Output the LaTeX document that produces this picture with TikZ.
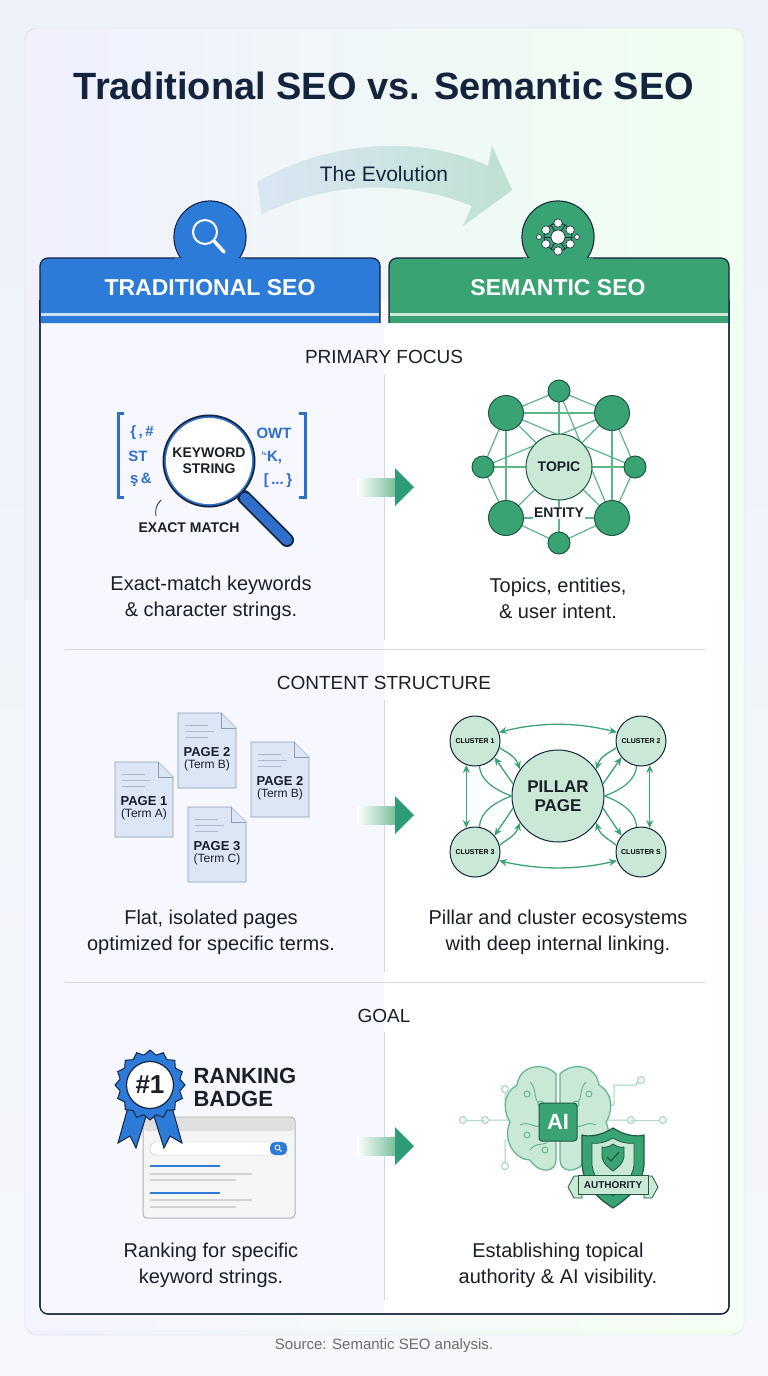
\documentclass[tikz,border=0pt]{standalone}
\usepackage{fontspec}
\setmainfont{Liberation Sans}
\usetikzlibrary{shapes.geometric,arrows.meta}
\definecolor{navy}{HTML}{14243D}
\definecolor{hblue}{HTML}{2D7BD8}
\definecolor{kblue}{HTML}{2E6FC9}
\definecolor{hgreen}{HTML}{3AA373}
\definecolor{dgreen}{HTML}{1E5A3F}
\definecolor{lgreen}{HTML}{C9E8D6}
\definecolor{egreen}{HTML}{5DB58A}
\definecolor{bg}{HTML}{EEF2F9}
\definecolor{pagef}{HTML}{DCE6F5}
\definecolor{pageb}{HTML}{8A9BB8}
\definecolor{txt}{HTML}{1A1F29}
\definecolor{gline}{HTML}{D2D6DD}
\tikzset{
 sect/.style={font=\fontsize{19}{22}\selectfont, text=txt},
 capt/.style={font=\fontsize{20}{26}\selectfont, text=txt, align=center},
 pg/.style={fill=pagef, draw=pageb, line width=0.9pt},
 pgt/.style={font=\bfseries\fontsize{13}{14}\selectfont, text=txt, align=center},
 bignode/.style={circle, fill=hgreen, draw=dgreen, line width=1pt},
 clus/.style={circle, fill=lgreen, draw=navy, line width=1pt, minimum size=50pt, inner sep=0pt, font=\bfseries\fontsize{7}{8}\selectfont},
 carr/.style={draw=hgreen, line width=1.3pt, -{Stealth[length=8pt,width=7pt]}},
 carr2/.style={draw=hgreen, line width=1.3pt, {Stealth[length=8pt,width=7pt]}-{Stealth[length=8pt,width=7pt]}},
 edge/.style={draw=egreen, line width=1.2pt},
 kw/.style={font=\bfseries\fontsize{15}{16}\selectfont, text=kblue},
 body/.style={draw=navy, line width=1.2pt, rounded corners=8},
}
\newcommand{\midarrow}[2]{%
 \shade[left color=white, right color=hgreen!70] (357,#1-9) rectangle (396,#1+9);
 \fill[hgreen!80!teal] (395,#1-19) -- (414,#1) -- (395,#1+19) -- cycle;
 \coordinate (#2) at (414,#1);}
\begin{document}
\begin{tikzpicture}[x=1pt,y=-1pt]
\useasboundingbox (0,0) rectangle (768,1376);
\shade[top color=bg, bottom color=bg!60!white] (0,0) rectangle (768,1376);
% outer card
\shade[left color=blue!6!white, right color=green!6!white, draw=gline] [rounded corners=12] (25,28) rectangle (744,1335);
\fill[white, opacity=0.35] (25,600) rectangle (744,1330);
% title
\node[font=\bfseries\fontsize{38}{42}\selectfont, text=navy] (title) at (384,86) {Traditional SEO vs. Semantic SEO};
% evolution arrow
\shade[left color=kblue!18!white, right color=hgreen!35!white, opacity=0.9, draw=hgreen!25]
 (258,182) .. controls (330,140) and (420,135) .. (488,166) -- (492,146) -- (512,190) -- (463,226)
 -- (472,206) .. controls (410,180) and (330,180) .. (262,214) -- cycle;
\node[font=\fontsize{21}{24}\selectfont, text=navy] (evo) at (384,174) {The Evolution};
% body
\path[fill=white, body] (40,300) -- (40,1314) -- (729,1314) -- (729,300);
\fill[blue!3] (41,323) rectangle (384,1313);
\draw[body] (40,300) -- (40,1314) -- (729,1314) -- (729,300);
% left header
\filldraw[fill=hblue, draw=navy, line width=1.2pt] (210,237) circle (36);
\filldraw[fill=hblue, draw=navy, line width=1.2pt, rounded corners=8] (40,323) -- (40,258) -- (380,258) -- (380,323);
\fill[hblue] (210,237) circle (35.3);
\fill[hblue] (175,258) rectangle (245,270);
\draw[white!75!hblue, line width=3pt] (41,314) -- (379,314);
\node[font=\bfseries\fontsize{23}{26}\selectfont, text=white] (lh) at (210,288) {TRADITIONAL SEO};
\draw[white, line width=2pt] (205,232) circle (12);
\draw[white, line width=3.5pt, line cap=round] (214,241) -- (224,252);
% right header
\filldraw[fill=hgreen, draw=navy, line width=1.2pt] (558,237) circle (36);
\filldraw[fill=hgreen, draw=navy, line width=1.2pt, rounded corners=8] (389,323) -- (389,258) -- (729,258) -- (729,323);
\fill[hgreen] (558,237) circle (35.3);
\fill[hgreen] (523,258) rectangle (593,270);
\draw[white!75!hgreen, line width=3pt] (390,314) -- (728,314);
\node[font=\bfseries\fontsize{23}{26}\selectfont, text=white] (rh) at (558,288) {SEMANTIC SEO};
\foreach \a in {0,60,...,300}{\draw[navy, line width=0.8pt] (558,237) -- ++(\a:14);}
\draw[navy, line width=0.8pt] (558,237) circle (14);
\foreach \a in {30,90,...,330}{\filldraw[fill=white, draw=navy, line width=0.6pt] (558,237) ++(\a:14) circle (4.2);}
\foreach \a in {0,180}{\filldraw[fill=white, draw=navy, line width=0.6pt] (558,237) ++(\a:19) circle (2.5);}
\filldraw[fill=white, draw=navy, line width=0.6pt] (558,237) circle (7);
% dividers
\draw[gline, line width=1pt] (384,375) -- (384,640) (384,700) -- (384,972) (384,1032) -- (384,1300);
\draw[gline, line width=1pt] (65,649) -- (705,649);
\draw[gline, line width=1pt] (65,982) -- (705,982);
\node[sect] (s1) at (384,357) {PRIMARY FOCUS};
\node[sect] (s2) at (384,683) {CONTENT STRUCTURE};
\node[sect] (s3) at (384,1016) {GOAL};
% ===== primary focus left
\draw[kblue, line width=3pt] (124,413) -- (118,413) -- (118,497) -- (124,497);
\draw[kblue, line width=3pt] (299,413) -- (305,413) -- (305,497) -- (299,497);
\node[kw] (k1) at (142,433) {\{\,,\,\#};
\node[kw] (k2) at (138,456) {ST};
\node[kw] (k3) at (141,480) {ş\,\&};
\node[kw] (k4) at (274,433) {OWT};
\node[kw] (k5) at (272,457) {\textsuperscript{\tiny fu}K,};
\node[kw] (k6) at (278,481) {[\,...\,\}};
\draw[navy, line width=14pt, line cap=round] (244,497) -- (287,540);
\draw[kblue, line width=10.5pt, line cap=round] (245,498) -- (287,540);
\draw[navy, line width=11pt] (209,461) circle (41);
\draw[kblue, line width=7.5pt] (209,461) circle (41);
\node[circle, fill=white, minimum size=72pt, align=center, font=\bfseries\fontsize{14}{16}\selectfont, text=txt] (kwl) at (209,461) {KEYWORD\\STRING};
\draw[navy, line width=0.8pt] (161,500) .. controls (156,505) and (155,510) .. (156,516);
\node[font=\bfseries\fontsize{14}{16}\selectfont, text=txt] (em) at (189,528) {EXACT MATCH};
\node[capt] (c1) at (211,598) {Exact-match keywords\\\& character strings.};
\midarrow{487}{a1}
% ===== primary focus right
\coordinate (nT) at (559,391); \coordinate (nTL) at (506,413); \coordinate (nTR) at (612,413);
\coordinate (nL) at (483,467); \coordinate (nR) at (635,467); \coordinate (nBL) at (506,518);
\coordinate (nBR) at (612,518); \coordinate (nB) at (559,543); \coordinate (nC) at (559,467);
\foreach \p/\q in {nT/nTL,nTL/nL,nL/nBL,nBL/nB,nB/nBR,nBR/nR,nR/nTR,nTR/nT,nTL/nTR,nBL/nBR,nL/nR,nTL/nBL,nTR/nBR,nTL/nBR,nTR/nBL,nT/nC,nTL/nR,nT/nBR,nL/nTR,nB/nC}
 {\draw[edge] (\p) -- (\q);}
\foreach \n in {nTL,nTR,nBL,nBR}{\node[bignode, minimum size=35pt] (g\n) at (\n) {};}
\foreach \n in {nT,nL,nR,nB}{\node[bignode, minimum size=22pt] (g\n) at (\n) {};}
\node[circle, fill=lgreen, draw=dgreen, line width=1pt, minimum size=66pt, font=\bfseries\fontsize{14}{16}\selectfont, text=txt] (topic) at (nC) {TOPIC};
\node[fill=white, inner sep=1pt, font=\bfseries\fontsize{14}{16}\selectfont, text=txt] (ent) at (559,513) {ENTITY};
\node[capt] (c2) at (558,598) {Topics, entities,\\\& user intent.};
% ===== content structure left
\foreach \x/\y/\n/\t/\nm in {115/762/1/A/p1, 178/713/2/B/p2, 251/742/2/B/p3, 188/807/3/C/p4}{
 \filldraw[pg] (\x,\y) -- (\x+43,\y) -- (\x+58,\y+15) -- (\x+58,\y+75) -- (\x,\y+75) -- cycle;
 \filldraw[pg] (\x+43,\y) -- (\x+43,\y+15) -- (\x+58,\y+15);
 \draw[pageb!70, line width=0.8pt] (\x+7,\y+12) -- (\x+30,\y+12) (\x+7,\y+18) -- (\x+36,\y+18) (\x+7,\y+24) -- (\x+30,\y+24);
 \node[pgt] (\nm) at (\x+29,\y+46) {PAGE \n\\[-2pt]{\mdseries\fontsize{12}{14}\selectfont(Term \t)}};
}
\node[capt] (c3) at (211,932) {Flat, isolated pages\\optimized for specific terms.};
\midarrow{815}{a2}
% ===== content structure right
\node[circle, fill=lgreen, draw=navy, line width=1pt, minimum size=92pt, align=center, font=\bfseries\fontsize{17}{19}\selectfont, text=txt] (pil) at (558,796) {PILLAR\\PAGE};
\node[clus] (q1) at (475,741) {CLUSTER 1};
\node[clus] (q2) at (641,741) {CLUSTER 2};
\node[clus] (q3) at (475,852) {CLUSTER 3};
\node[clus] (q4) at (641,852) {CLUSTER S};
\draw[carr2] (q1.20) .. controls (540,722) and (576,722) .. (q2.160);
\draw[carr2] (q3.-20) .. controls (540,870) and (576,870) .. (q4.-160);
\draw[carr2] (q1.-110) -- (q3.110);
\draw[carr2] (q2.-70) -- (q4.70);
\draw[carr] (q1.-15) .. controls (505,752) and (515,755) .. (pil.145);
\draw[carr] (pil.165) -- (q1.-40);
\draw[carr] (q2.-165) .. controls (611,752) and (601,755) .. (pil.35);
\draw[carr] (pil.15) -- (q2.-140);
\draw[carr] (q3.15) .. controls (505,840) and (515,837) .. (pil.-145);
\draw[carr] (pil.-165) -- (q3.40);
\draw[carr] (q4.165) .. controls (611,840) and (601,837) .. (pil.-35);
\draw[carr] (pil.-15) -- (q4.140);
\draw[hgreen, line width=1.2pt] (q1.-80) .. controls (480,780) and (495,790) .. (pil.180);
\draw[hgreen, line width=1.2pt] (q3.80) .. controls (480,812) and (495,802) .. (pil.180);
\draw[hgreen, line width=1.2pt] (q2.-100) .. controls (636,780) and (621,790) .. (pil.0);
\draw[hgreen, line width=1.2pt] (q4.100) .. controls (636,812) and (621,802) .. (pil.0);
\node[capt] (c4) at (558,932) {Pillar and cluster ecosystems\\with deep internal linking.};
% ===== goal left
\filldraw[fill=gray!8, draw=gray!60, line width=1pt, rounded corners=4] (143,1117) rectangle (295,1218);
\fill[gray!25, rounded corners=4] (143.5,1117.5) rectangle (294.5,1131);
\filldraw[fill=white, draw=gray!50, rounded corners=6] (150,1142) rectangle (287,1155);
\fill[hblue, rounded corners=5] (270,1142) rectangle (287,1155);
\draw[white, line width=0.8pt] (277.5,1147.5) circle (2.5) (279.3,1149.3) -- (281.5,1151.5);
\draw[hblue, line width=2.8pt] (150,1166) -- (220,1166) (150,1193) -- (220,1193);
\draw[gray!35, line width=2pt] (150,1174) -- (252,1174) (150,1180) -- (236,1180) (150,1200) -- (252,1200) (150,1207) -- (236,1207);
\filldraw[fill=hblue, draw=navy, line width=1pt] (130,1100) -- (118,1143) -- (130,1136) -- (136,1148) -- (148,1110) -- cycle;
\filldraw[fill=hblue, draw=navy, line width=1pt] (152,1110) -- (164,1148) -- (170,1136) -- (182,1143) -- (170,1100) -- cycle;
\node[star, star points=16, star point ratio=1.15, minimum size=70pt, inner sep=0pt, fill=hblue, draw=navy, line width=1pt] (ros) at (150,1085) {};
\node[circle, fill=white, draw=navy, line width=1.2pt, minimum size=47pt, inner sep=0pt, font=\bfseries\fontsize{26}{28}\selectfont, text=txt] (n1) at (150,1085) {\#1};
\node[anchor=west, align=left, font=\bfseries\fontsize{22}{23}\selectfont, text=txt] (rb) at (190,1087) {RANKING\\BADGE};
\node[capt] (c5) at (211,1265) {Ranking for specific\\keyword strings.};
\midarrow{1146}{a3}
% ===== goal right
\draw[egreen!60, line width=1pt]
 (520,1120) -- (488,1120) (520,1105) -- (505,1105) -- (505,1092) (520,1140) -- (505,1140) -- (505,1163)
 (596,1120) -- (628,1120) (596,1105) -- (614,1105) -- (614,1085) -- (636,1085) -- (638,1082) (596,1140) -- (612,1140);
\foreach \p in {(485,1120),(505,1089),(505,1166),(631,1120),(641,1080)}{\draw[egreen!60, fill=white, line width=1pt] \p circle (3.5);}
\draw[egreen!50, line width=1pt] (631,1120) -- (660,1120); \draw[egreen!60, fill=white, line width=1pt] (663,1120) circle (3.5);
\draw[egreen!50, line width=1pt] (485,1120) -- (466,1120); \draw[egreen!60, fill=white, line width=1pt] (463,1120) circle (3.5);
\filldraw[fill=lgreen, draw=egreen, line width=1.2pt] (556,1074) .. controls (545,1062) and (520,1064) .. (517,1085) .. controls (500,1095) and (505,1115) .. (510,1122)
 .. controls (502,1140) and (515,1160) .. (530,1160) .. controls (540,1175) and (556,1172) .. (556,1160) -- cycle;
\filldraw[fill=lgreen, draw=egreen, line width=1.2pt] (560,1074) .. controls (571,1062) and (596,1064) .. (599,1085) .. controls (616,1095) and (611,1115) .. (606,1122)
 .. controls (614,1140) and (601,1160) .. (586,1160) .. controls (576,1175) and (560,1172) .. (560,1160) -- cycle;
\draw[egreen, line width=0.9pt] (530,1082) .. controls (538,1090) and (532,1098) .. (540,1104) (520,1125) .. controls (530,1120) and (535,1130) .. (540,1125)
 (530,1150) .. controls (538,1140) and (545,1148) .. (548,1140) (586,1082) .. controls (578,1090) and (584,1098) .. (576,1104)
 (596,1125) .. controls (586,1120) and (581,1130) .. (576,1125);
\foreach \p in {(541,1104),(576,1104),(527,1094),(589,1094),(527,1135),(545,1150)}{\draw[egreen, fill=lgreen, line width=0.9pt] \p circle (3);}
\node[rectangle, rounded corners=3, fill=hgreen, draw=dgreen, line width=1pt, minimum size=38pt, font=\bfseries\fontsize{22}{24}\selectfont, text=white] (ai) at (558,1122) {AI};
\filldraw[fill=hgreen, draw=dgreen, line width=1.2pt] (613,1128) .. controls (625,1136) and (638,1137) .. (644,1135) -- (644,1165) .. controls (642,1188) and (625,1200) .. (613,1208)
 .. controls (601,1200) and (584,1188) .. (582,1165) -- (582,1135) .. controls (588,1137) and (601,1136) .. (613,1128) -- cycle;
\filldraw[fill=lgreen, draw=dgreen, line width=0.8pt] (613,1138) .. controls (621,1143) and (630,1144) .. (634,1143) -- (634,1165) .. controls (632,1180) and (621,1190) .. (613,1196)
 .. controls (605,1190) and (594,1180) .. (592,1165) -- (592,1143) .. controls (596,1144) and (605,1143) .. (613,1138) -- cycle;
\filldraw[fill=hgreen, draw=dgreen, line width=0.8pt] (613,1144) .. controls (617,1147) and (622,1148) .. (624,1147) -- (624,1157) .. controls (623,1164) and (617,1168) .. (613,1171)
 .. controls (609,1168) and (603,1164) .. (602,1157) -- (602,1147) .. controls (604,1148) and (609,1147) .. (613,1144) -- cycle;
\draw[dgreen, line width=1.2pt] (607,1157) -- (611,1161) -- (619,1152);
\filldraw[fill=lgreen, draw=dgreen, line width=0.8pt] (574,1176) -- (568,1187) -- (574,1198) -- (582,1198) -- (582,1176) -- cycle;
\filldraw[fill=lgreen, draw=dgreen, line width=0.8pt] (652,1176) -- (658,1187) -- (652,1198) -- (644,1198) -- (644,1176) -- cycle;
\node[rectangle, fill=lgreen, draw=dgreen, line width=1pt, minimum width=70pt, minimum height=19pt, inner sep=1pt, font=\bfseries\fontsize{10}{11}\selectfont, text=txt] (auth) at (613,1185) {AUTHORITY};
\node[capt] (c6) at (558,1265) {Establishing topical\\authority \& AI visibility.};
% footer
\node[font=\fontsize{15}{17}\selectfont, text=gray!85!black] (src) at (384,1346) {Source: Semantic SEO analysis.};
\end{tikzpicture}
\end{document}
